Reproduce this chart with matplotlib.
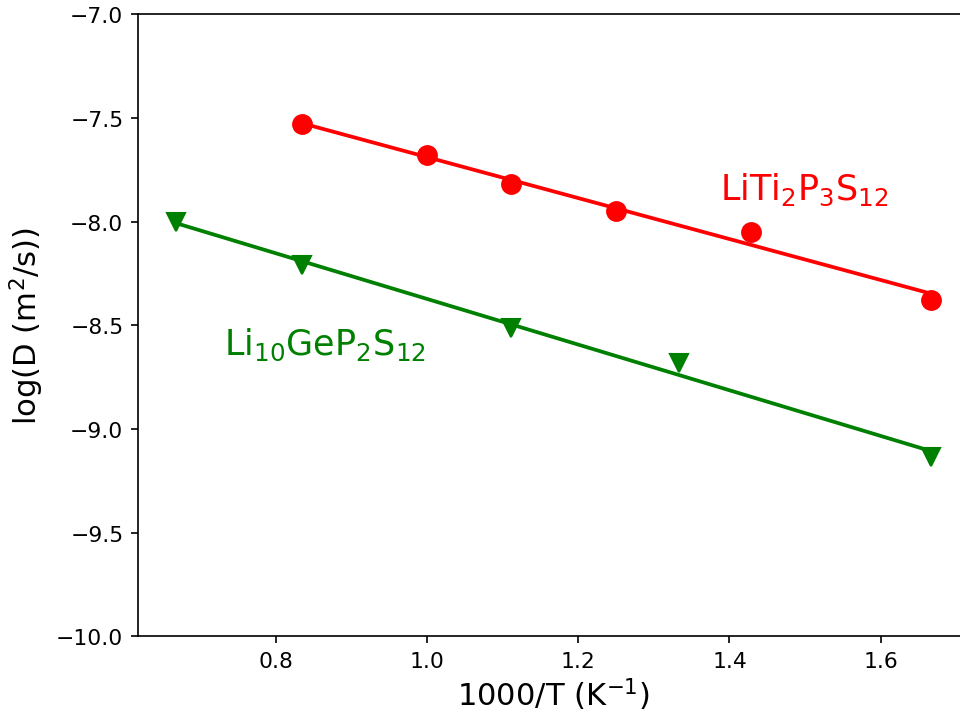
import matplotlib
matplotlib.use('Agg')
import matplotlib.pyplot as plt
import numpy as np

# temperatures (K) -> 1000/T
T_lps = np.array([1200, 1000, 900, 800, 700, 600])
logD_lps = np.array([-7.53, -7.68, -7.82, -7.95, -8.05, -8.38])

T_lgps = np.array([1500, 1200, 900, 750, 600])
logD_lgps = np.array([-8.00, -8.21, -8.515, -8.68, -9.135])

x_lps = 1000 / T_lps
x_lgps = 1000 / T_lgps

fig = plt.figure(figsize=(6.4, 4.813), dpi=150)
ax = fig.add_axes([0.1437, 0.1173, 0.8653, 0.8617])

# linear fits
p1 = np.polyfit(x_lps, logD_lps, 1)
p2 = np.polyfit(x_lgps, logD_lgps, 1)
xf1 = np.array([x_lps.min(), x_lps.max()])
xf2 = np.array([x_lgps.min(), x_lgps.max()])

ax.plot(x_lps, logD_lps, 'o', color='red', markersize=9)
ax.plot(xf1, np.polyval(p1, xf1), '-', color='red', linewidth=1.8)
ax.plot(x_lgps, logD_lgps, 'v', color='green', markersize=9)
ax.plot(xf2, np.polyval(p2, xf2), '-', color='green', linewidth=1.8)

ax.text(1.387, -7.89, r'LiTi$_2$P$_3$S$_{12}$', color='red', fontsize=16.8, va='baseline')
ax.text(0.731, -8.64, r'Li$_{10}$GeP$_2$S$_{12}$', color='green', fontsize=16.8, va='baseline')

ax.set_xlim(0.6167, 1.7167)
ax.set_ylim(-10, -7)
ax.set_xticks([0.8, 1.0, 1.2, 1.4, 1.6])
ax.set_yticks(np.arange(-10, -6.9, 0.5))
ax.tick_params(labelsize=10.5)
ax.set_xlabel(r'1000/T (K$^{-1}$)', fontsize=14.7, labelpad=2)
ax.set_ylabel(r'log(D (m$^2$/s))', fontsize=14.7, labelpad=5)

fig.savefig('out.png', dpi=150)
